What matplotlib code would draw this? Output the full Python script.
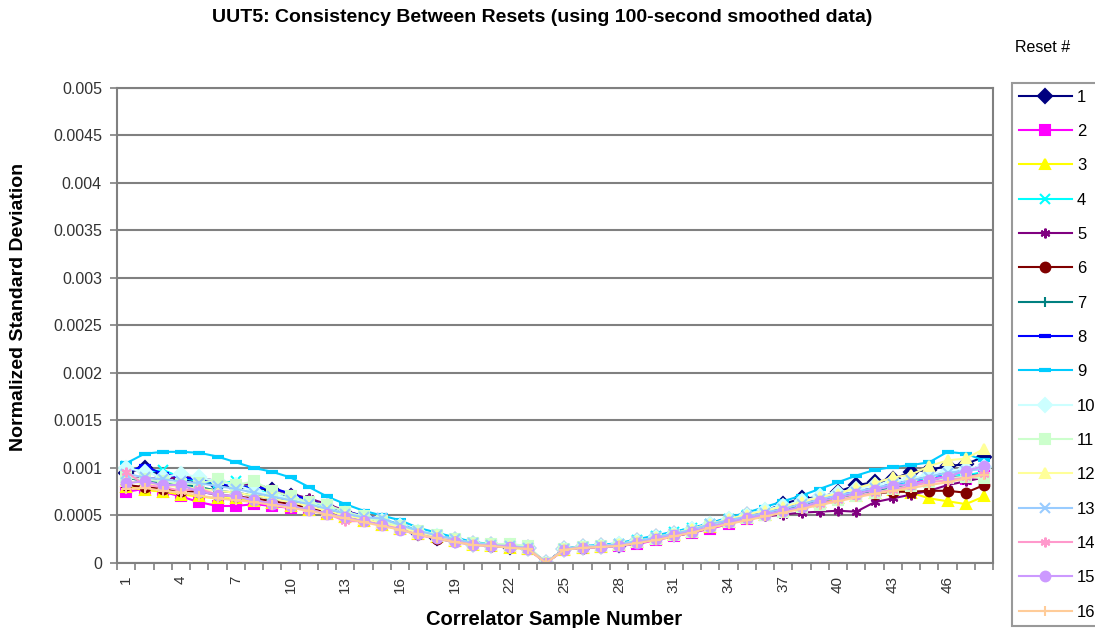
import numpy as np
import matplotlib.pyplot as plt
from matplotlib.ticker import FixedLocator, FuncFormatter

plt.rcParams['font.family'] = ['Liberation Sans', 'DejaVu Sans']

samples = np.arange(1, 49)

# normalized std dev per reset, in units of 1e-4
r1 = [9.5, 10.0, 9.2, 8.8, 8.6, 8.2, 8.0, 7.9, 7.7, 7.0, 6.4, 5.9, 5.3, 4.8, 4.4, 3.9, 3.2, 2.6, 2.4, 2.0, 1.9, 1.7, 1.6, 0.0,
      1.5, 1.7, 1.8, 1.9, 2.3, 2.7, 3.1, 3.5, 4.0, 4.5, 5.0, 5.5, 6.2, 6.8, 6.9, 7.5, 8.2, 8.5, 8.8, 9.6, 9.8, 10.2, 10.4, 11.2]
r2 = [7.5, 7.8, 7.5, 7.0, 6.4, 6.0, 6.0, 6.2, 6.0, 5.8, 5.6, 5.2, 4.8, 4.4, 4.0, 3.6, 3.0, 2.7, 2.3, 2.0, 1.9, 1.7, 1.5, 0.0,
      1.4, 1.6, 1.7, 1.8, 2.0, 2.4, 2.8, 3.2, 3.6, 4.1, 4.6, 5.0, 5.5, 5.9, 6.3, 6.8, 7.2, 7.6, 8.0, 8.4, 8.9, 9.3, 8.8, 9.2]
r3 = [8.0, 7.7, 7.5, 7.2, 7.0, 6.8, 6.8, 6.5, 6.3, 6.0, 5.6, 5.2, 4.8, 4.4, 4.0, 3.6, 3.1, 2.7, 2.3, 1.9, 1.8, 1.6, 1.5, 0.0,
      1.4, 1.6, 1.7, 1.9, 2.2, 2.5, 2.9, 3.3, 3.8, 4.3, 4.7, 5.1, 5.6, 6.0, 6.4, 6.8, 7.1, 7.4, 7.7, 7.4, 6.8, 6.5, 6.2, 7.0]
r4 = [10.2, 9.5, 9.8, 9.0, 8.6, 8.4, 8.6, 7.8, 7.2, 6.8, 6.3, 5.9, 5.4, 4.9, 4.6, 4.1, 3.4, 2.9, 2.5, 2.1, 1.9, 1.8, 1.6, 0.0,
      1.5, 1.7, 1.8, 2.0, 2.4, 2.8, 3.3, 3.7, 4.1, 4.6, 5.0, 5.3, 5.6, 6.0, 6.5, 7.0, 7.4, 7.8, 8.2, 8.6, 9.0, 9.4, 9.2, 9.6]
r5 = [8.8, 9.0, 8.8, 9.1, 9.0, 8.6, 8.2, 8.3, 7.8, 7.3, 6.8, 6.2, 5.5, 4.9, 4.5, 4.0, 3.3, 2.8, 2.5, 2.1, 1.9, 1.8, 1.6, 0.0,
      1.5, 1.6, 1.7, 1.8, 2.1, 2.5, 2.8, 3.2, 3.7, 4.2, 4.6, 4.9, 5.1, 5.3, 5.4, 5.5, 5.4, 6.4, 6.8, 7.2, 7.6, 8.2, 8.6, 9.0]
r6 = [8.2, 8.0, 7.8, 7.6, 7.5, 7.2, 7.0, 6.8, 6.5, 6.2, 5.8, 5.4, 5.0, 4.6, 4.2, 3.7, 3.1, 2.5, 2.3, 2.0, 1.8, 1.7, 1.6, 0.0,
      1.5, 1.6, 1.8, 1.9, 2.2, 2.6, 3.0, 3.5, 4.0, 4.5, 5.0, 5.4, 5.8, 6.4, 6.7, 7.0, 7.2, 7.3, 7.5, 7.5, 7.6, 7.6, 7.4, 8.2]
r7 = [9.0, 8.6, 8.4, 8.3, 8.0, 7.6, 7.4, 7.1, 6.8, 6.5, 6.0, 5.6, 5.1, 4.7, 4.3, 3.8, 3.2, 2.8, 2.4, 2.0, 1.9, 1.8, 1.6, 0.0,
      1.5, 1.7, 1.8, 1.9, 2.2, 2.6, 3.0, 3.4, 3.9, 4.4, 4.8, 5.2, 5.6, 6.0, 6.5, 6.9, 7.3, 7.6, 7.9, 8.2, 8.6, 8.9, 9.1, 9.4]
r8 = [9.6, 10.2, 9.4, 9.0, 8.8, 8.4, 8.1, 7.9, 7.9, 7.3, 6.6, 6.0, 5.4, 5.0, 4.6, 4.0, 3.3, 2.9, 2.5, 2.1, 1.9, 1.8, 1.6, 0.0,
      1.5, 1.7, 1.8, 2.0, 2.4, 2.8, 3.2, 3.6, 4.2, 4.7, 5.1, 5.5, 5.9, 6.3, 6.7, 7.1, 7.5, 7.9, 8.3, 8.7, 9.1, 9.5, 9.8, 10.2]
r9 = [10.5, 11.5, 11.7, 11.7, 11.6, 11.2, 10.6, 10.0, 9.6, 9.0, 8.0, 7.0, 6.2, 5.5, 5.0, 4.5, 3.7, 3.2, 2.7, 2.2, 2.0, 1.9, 1.7, 0.0,
      1.5, 1.8, 1.9, 2.1, 2.5, 2.9, 3.3, 3.7, 4.2, 4.8, 5.3, 5.9, 6.5, 7.1, 7.8, 8.5, 9.2, 9.8, 10.1, 10.3, 10.6, 11.7, 11.5, 10.8]
r10 = [10.0, 9.6, 9.0, 9.4, 9.0, 8.6, 8.2, 7.6, 7.2, 6.8, 6.2, 5.8, 5.2, 4.8, 4.4, 3.9, 3.3, 2.8, 2.4, 2.0, 1.9, 1.8, 1.6, 0.0,
       1.5, 1.7, 1.8, 2.0, 2.3, 2.7, 3.1, 3.6, 4.1, 4.6, 5.1, 5.6, 6.0, 6.5, 7.0, 7.4, 7.8, 8.2, 8.6, 8.9, 9.3, 9.7, 9.9, 10.1]
r11 = [9.0, 8.8, 8.6, 8.3, 8.4, 8.8, 8.2, 8.6, 7.6, 7.0, 6.4, 6.1, 5.4, 4.9, 4.4, 3.9, 3.4, 2.9, 2.5, 2.1, 2.0, 2.0, 1.8, 0.0,
       1.5, 1.7, 1.8, 1.9, 2.2, 2.5, 2.9, 3.3, 3.9, 4.3, 4.7, 5.1, 5.4, 5.9, 6.1, 6.6, 7.1, 7.4, 7.8, 8.1, 8.5, 8.9, 9.1, 8.9]
r12 = [8.6, 8.4, 8.2, 8.0, 7.8, 7.6, 7.4, 7.1, 6.8, 6.4, 6.0, 5.5, 5.0, 4.6, 4.2, 3.7, 3.2, 2.8, 2.4, 2.0, 1.9, 1.8, 1.6, 0.0,
       1.5, 1.7, 1.8, 2.0, 2.3, 2.7, 3.1, 3.6, 4.1, 4.6, 5.1, 5.5, 5.9, 6.4, 6.9, 7.3, 7.9, 8.4, 9.0, 9.3, 10.2, 10.8, 11.0, 12.0]
r13 = [9.4, 9.0, 8.8, 8.6, 8.4, 8.1, 7.8, 7.4, 7.0, 6.6, 6.2, 5.7, 5.2, 4.8, 4.7, 4.0, 3.4, 2.9, 2.5, 2.1, 1.9, 1.8, 1.6, 0.0,
       1.5, 1.7, 1.8, 2.0, 2.3, 2.7, 3.1, 3.5, 4.1, 4.5, 4.9, 5.3, 5.7, 6.2, 6.7, 7.1, 7.5, 7.9, 8.3, 8.7, 9.1, 9.5, 9.7, 9.9]
r14 = [9.6, 8.2, 8.0, 7.6, 7.8, 7.2, 7.0, 6.6, 6.3, 6.0, 5.6, 5.2, 4.4, 4.4, 4.0, 3.6, 2.9, 2.6, 2.3, 1.9, 1.8, 1.7, 1.5, 0.0,
       1.4, 1.6, 1.7, 1.8, 2.1, 2.5, 2.9, 3.3, 3.8, 4.2, 4.6, 5.0, 5.4, 5.8, 6.2, 6.6, 7.0, 7.4, 7.7, 8.1, 8.5, 8.7, 9.0, 9.4]
r15 = [8.4, 8.6, 8.2, 8.2, 7.5, 7.2, 7.0, 6.6, 6.2, 6.0, 5.6, 5.2, 4.8, 4.4, 4.0, 3.5, 3.0, 2.6, 2.2, 1.9, 1.8, 1.7, 1.5, 0.0,
       1.4, 1.6, 1.7, 1.8, 2.1, 2.5, 2.9, 3.3, 3.8, 4.3, 4.7, 5.1, 5.5, 5.9, 6.5, 6.9, 7.3, 7.7, 8.1, 8.3, 8.7, 9.1, 9.7, 10.2]
r16 = [7.8, 7.9, 7.6, 7.4, 7.1, 6.8, 6.6, 6.4, 6.1, 5.8, 5.5, 5.1, 4.7, 4.3, 3.9, 3.5, 3.0, 2.6, 2.2, 1.9, 1.8, 1.6, 1.5, 0.0,
       1.4, 1.6, 1.7, 1.8, 2.1, 2.4, 2.8, 3.2, 3.7, 4.1, 4.5, 4.9, 5.3, 5.7, 6.1, 6.5, 6.9, 7.3, 7.6, 7.9, 8.2, 8.5, 8.9, 9.3]

resets = [r1, r2, r3, r4, r5, r6, r7, r8, r9, r10, r11, r12, r13, r14, r15, r16]
labels = [str(i) for i in range(1, 17)]

# excel default series colours and markers
colors = ['#000080', '#FF00FF', '#FFFF00', '#00FFFF', '#800080', '#800000', '#008080', '#0000FF',
          '#00CCFF', '#CCFFFF', '#CCFFCC', '#FFFF99', '#99CCFF', '#FF99CC', '#CC99FF', '#FFCC99']
star = (6, 2, 0)
markers = ['D', 's', '^', 'x', star, 'o', '+', '_', '_', 'D', 's', '^', 'x', star, 'o', '+']

fig = plt.figure(figsize=(10.95, 6.28), dpi=100)
ax = fig.add_axes([0.107, 0.1035, 0.8, 0.7565])

for vals, c, m, lab in zip(resets, colors, markers, labels):
    dash = m == '_'
    ax.plot(samples, np.array(vals) * 1e-4, color=c, marker=m,
            markersize=8 if dash else 7, mew=3 if dash else 1.5,
            lw=1.5, label=lab)

ax.set_xlim(0.5, 48.5)
ax.set_ylim(0, 0.005)
ax.set_yticks(np.arange(0, 0.00501, 0.0005))
ax.yaxis.set_major_formatter(FuncFormatter(lambda v, p: f"{v:g}"))
ax.grid(axis='y', color='#808080', lw=1.5)
ax.set_axisbelow(True)

ax.set_xticks(np.arange(1, 49, 3))
ax.set_xticklabels([str(i) for i in range(1, 49, 3)], rotation=90)
ax.xaxis.set_minor_locator(FixedLocator(np.arange(0.5, 49, 1)))
ax.tick_params(axis='x', which='major', length=0, pad=9, labelsize=11, colors='#333333')
ax.tick_params(axis='x', which='minor', length=5, width=1.2, color='#808080')
ax.tick_params(axis='y', length=5, width=1.2, color='#808080', labelsize=11.5,
               labelcolor='#333333', pad=6)

for s in ax.spines.values():
    s.set_color('#808080')
    s.set_linewidth(1.5)

ax.set_xlabel('Correlator Sample Number', fontsize=14.5, fontweight='bold')
ax.xaxis.set_label_coords(0.499, -0.098)
ax.set_ylabel('Normalized Standard Deviation', fontsize=14, fontweight='bold')
ax.yaxis.set_label_coords(-0.103, 0.54)

fig.text(0.495, 0.972, 'UUT5: Consistency Between Resets (using 100-second smoothed data)',
         ha='center', va='center', fontsize=14, fontweight='bold')
fig.text(0.952, 0.925, 'Reset #', ha='center', va='center', fontsize=11.5)

leg = fig.legend(loc='upper left', bbox_to_anchor=(1012 / 1095, 1 - 83 / 628), borderaxespad=0,
                 fontsize=12, labelspacing=1.16, handlelength=3.2, handletextpad=0.3,
                 borderpad=0.4, frameon=True, fancybox=False)
leg.get_frame().set_edgecolor('#808080')
leg.get_frame().set_linewidth(1.5)

fig.savefig('out.png', dpi=100)
